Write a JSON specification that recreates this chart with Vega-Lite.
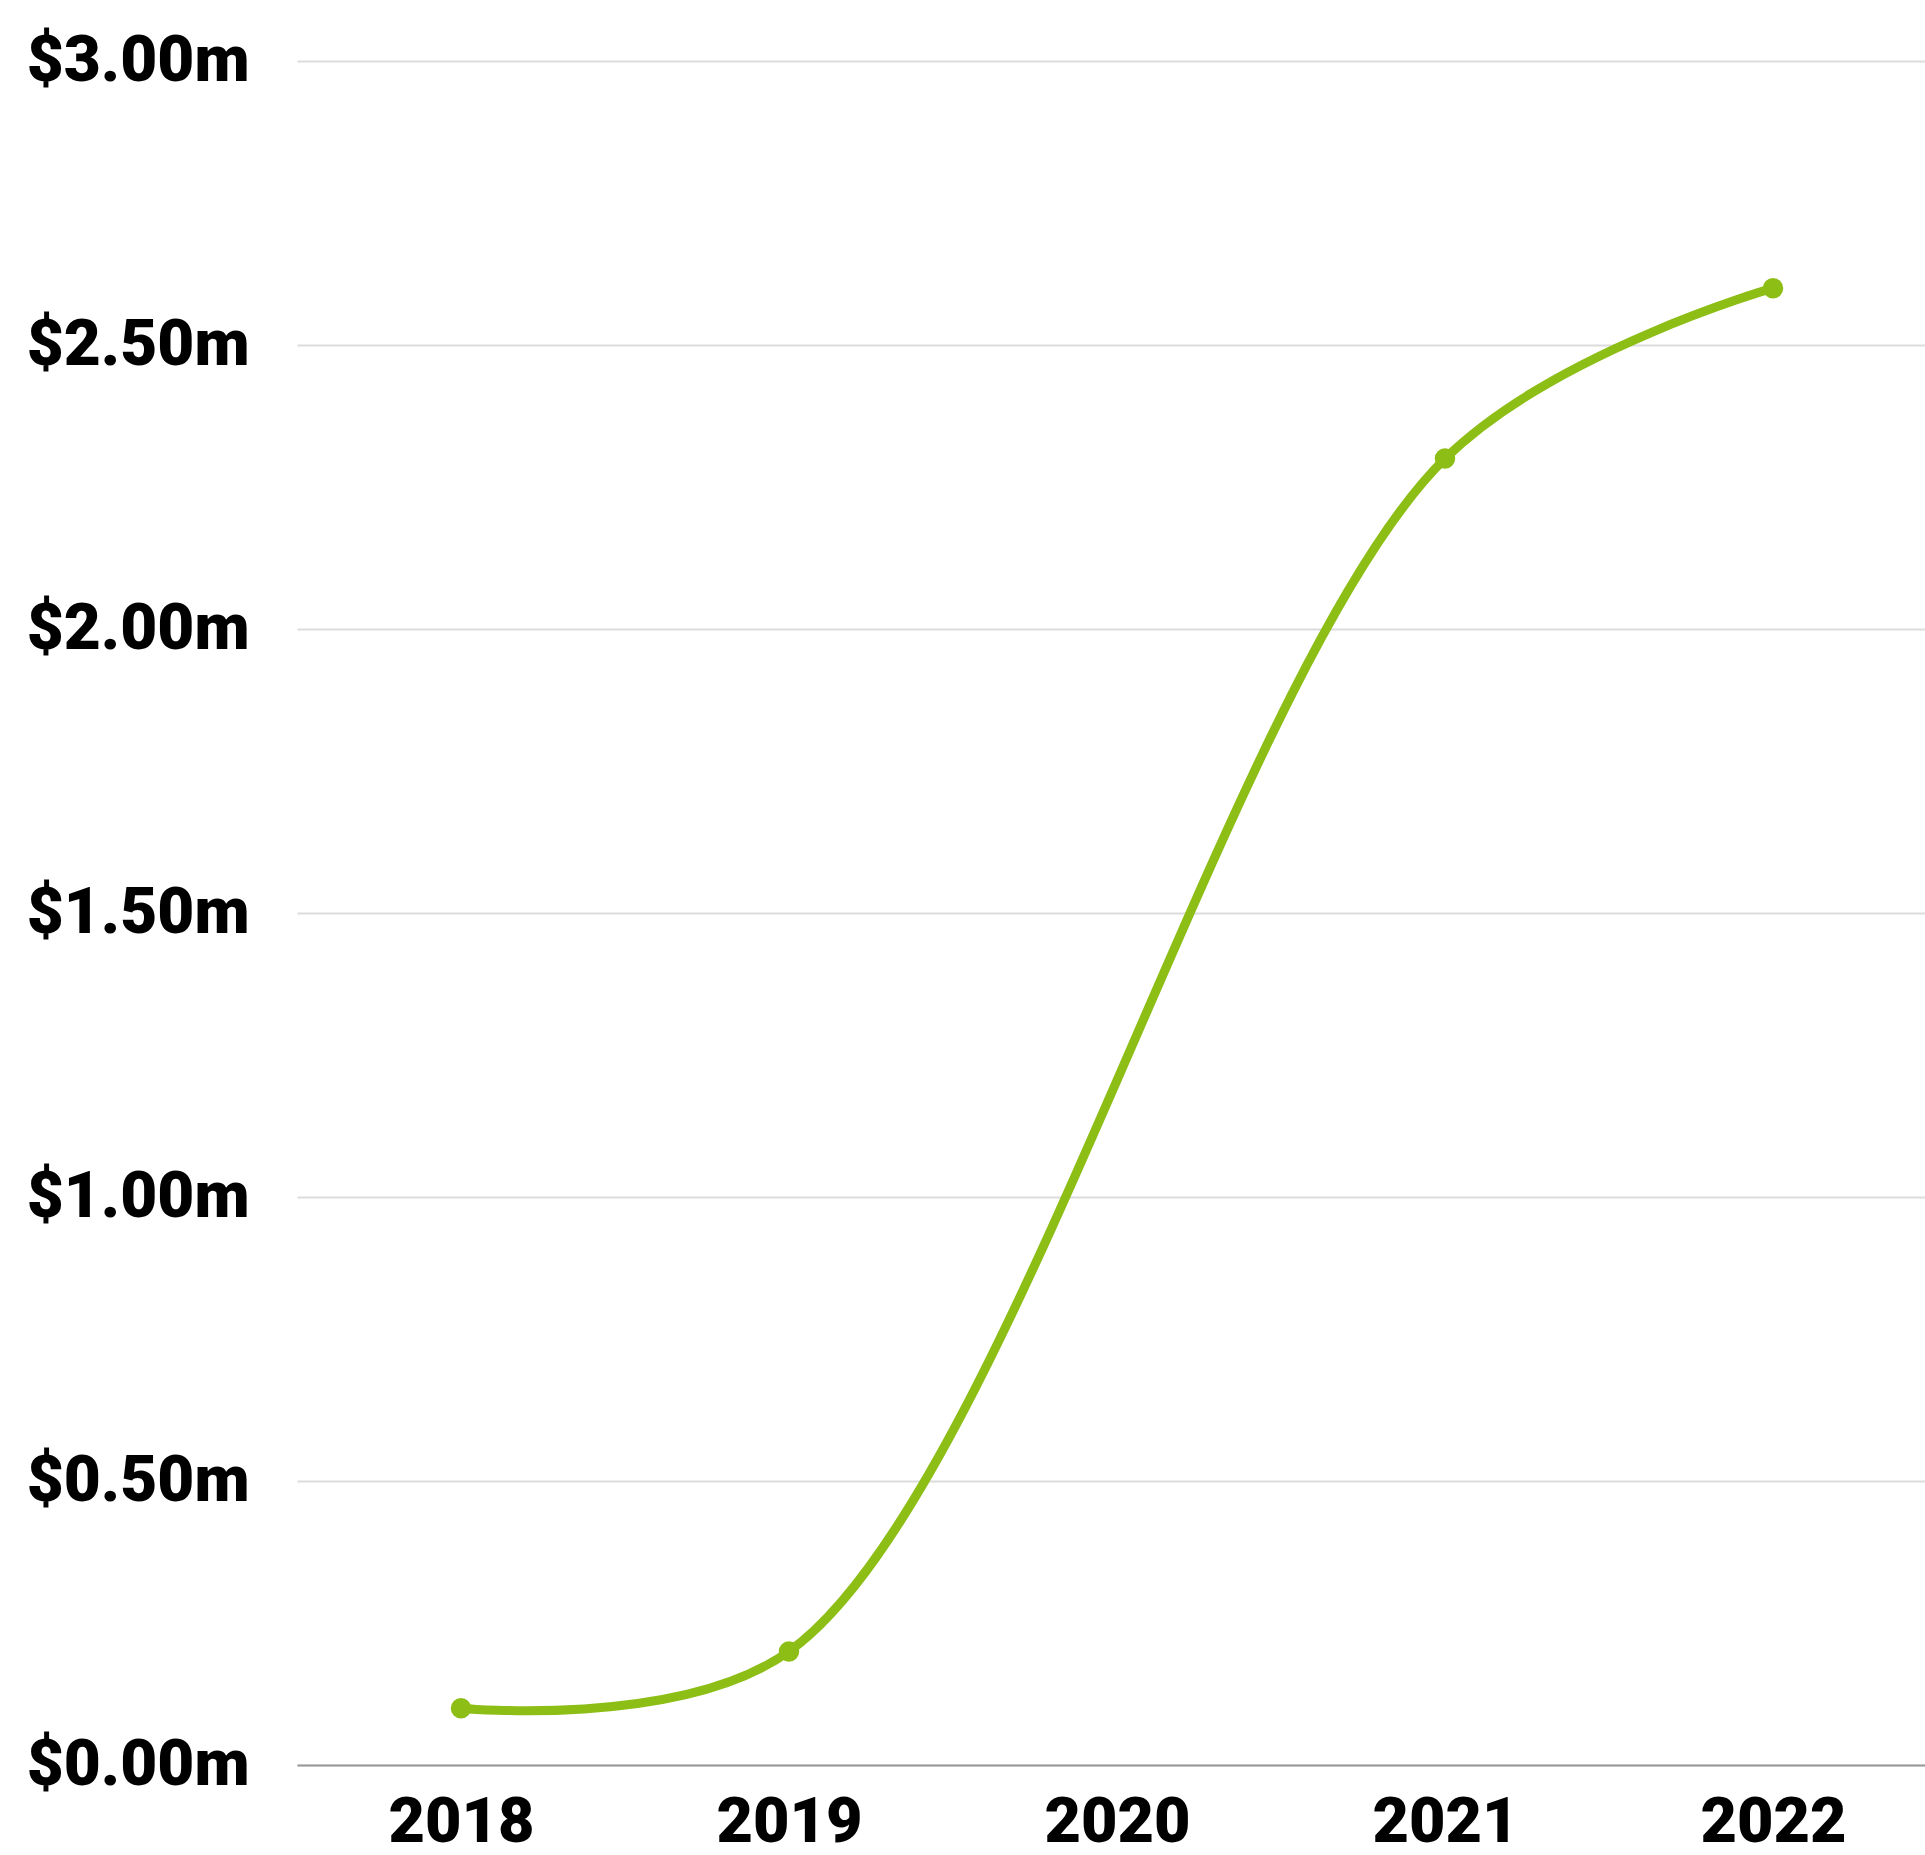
{
  "$schema": "https://vega.github.io/schema/vega-lite/v6.json",
  "width": 1640,
  "height": 1704,
  "autosize": {"type": "none"},
  "padding": {"left": 297, "top": 61, "right": 0, "bottom": 90},
  "background": "white",
  "config": {"view": {"stroke": null}},
  "data": {"values": [
    {"year": "2018", "value": 0.10},
    {"year": "2019", "value": 0.20},
    {"year": "2021", "value": 2.30},
    {"year": "2022", "value": 2.60}
  ]},
  "encoding": {
    "x": {"field": "year", "type": "ordinal",
      "scale": {"type": "point", "domain": ["2018", "2019", "2020", "2021", "2022"], "padding": 0.5},
      "axis": {"title": null, "labelAngle": 0, "labelFont": "Roboto", "labelFontWeight": 900, "labelFontSize": 63, "labelColor": "#000",
        "labelPadding": 26, "labelLimit": 500, "ticks": false, "domain": true, "domainColor": "#999", "domainWidth": 2, "grid": false}},
    "y": {"field": "value", "type": "quantitative",
      "scale": {"domain": [0, 3], "nice": false},
      "axis": {"title": null, "values": [0, 0.5, 1, 1.5, 2, 2.5, 3],
        "labelExpr": "'$' + format(datum.value, '.2f') + 'm'",
        "labelFont": "Roboto", "labelFontWeight": 900, "labelFontSize": 64, "labelColor": "#000",
        "labelPadding": 48, "labelLimit": 500, "ticks": false, "domain": false, "grid": true, "gridColor": "#dcdcdc", "gridWidth": 2}}
  },
  "layer": [
    {"mark": {"type": "line", "interpolate": "catmull-rom", "color": "#8dbe16", "strokeWidth": 9}},
    {"mark": {"type": "point", "filled": true, "color": "#8dbe16", "size": 420, "opacity": 1}}
  ]
}
